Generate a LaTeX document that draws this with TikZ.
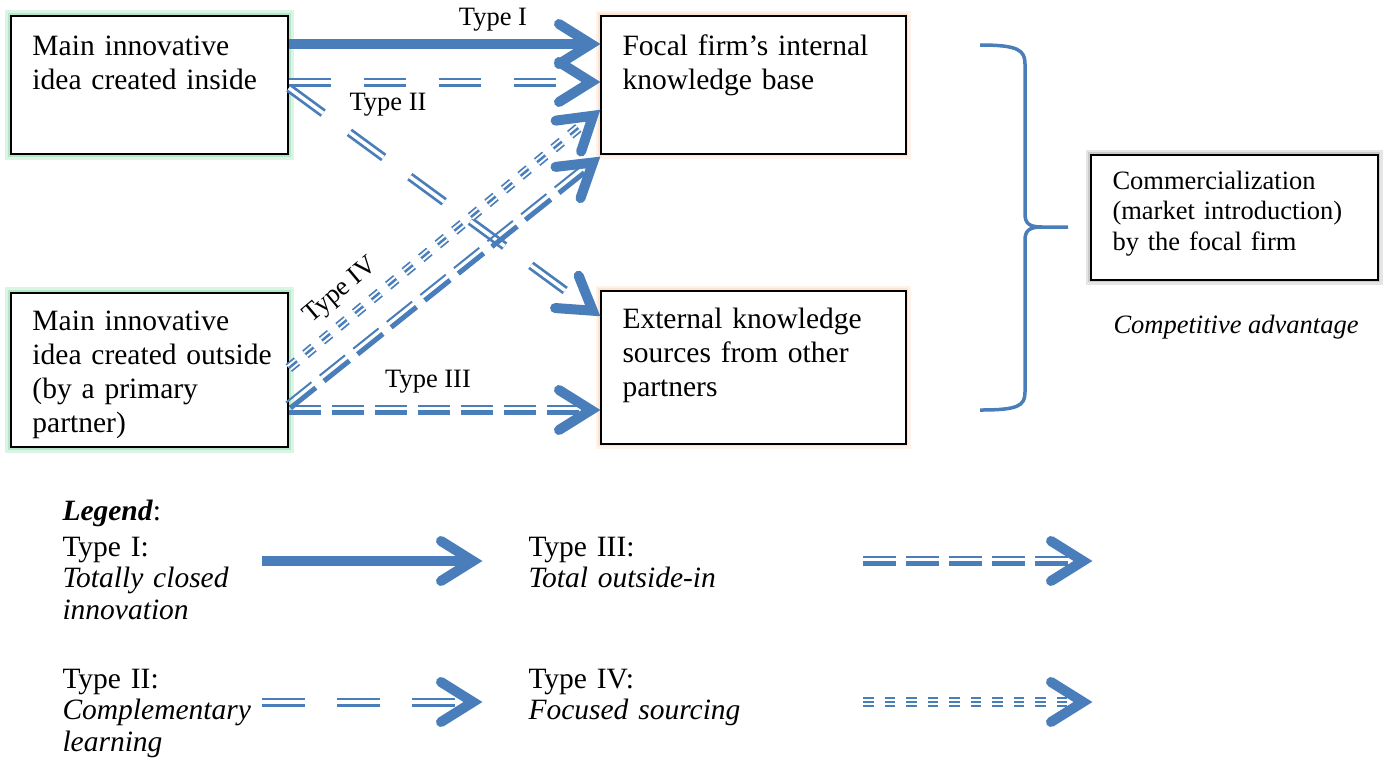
\documentclass[tikz,border=0pt]{standalone}
\usepackage{fontspec}
\setmainfont{Liberation Serif}
\usetikzlibrary{calc}
\definecolor{arr}{RGB}{74,126,187}
\definecolor{glowg}{RGB}{140,220,170}
\definecolor{glowo}{RGB}{250,205,175}
\newcommand{\tthree}[2]{%
  \draw[t3thick] ($(#1)!1pt!-90:(#2)$) -- ($(#2)!1pt!90:(#1)$);
  \draw[t3thin] ($(#1)!1.8pt!90:(#2)$) -- ($(#2)!1.8pt!-90:(#1)$);}
\newcommand{\tfour}[2]{%
  \draw[t4a] (#1) -- (#2);
  \draw[t4b] (#1) -- (#2);}
\begin{document}
\begin{tikzpicture}[x=0.4pt,y=-0.4pt,
  box/.style={draw=black, fill=white, line width=0.75pt, rectangle, inner sep=0pt, anchor=north west},
  gbox/.style={preaction={draw=glowg, line width=5pt, opacity=.3}, preaction={draw=glowg, line width=2.6pt, opacity=.5}},
  obox/.style={preaction={draw=glowo, line width=4pt, opacity=.25}, preaction={draw=glowo, line width=2pt, opacity=.4}},
  sbox/.style={preaction={draw=black!40, line width=4pt, opacity=.25}, preaction={draw=black!40, line width=2pt, opacity=.35}},
  btxt/.style={anchor=base west, inner sep=0pt, align=left, font=\fontsize{11.8}{13.6}\selectfont},
  stxt/.style={anchor=base west, inner sep=0pt, align=left, font=\fontsize{10.6}{12.2}\selectfont},
  ltxt/.style={anchor=base west, inner sep=0pt, align=left, font=\fontsize{11.8}{12.6}\selectfont},
  lbl/.style={inner sep=0pt, font=\fontsize{10.6}{12.2}\selectfont},
  t1/.style={draw=arr, line width=4pt},
  t2/.style={draw=arr, line width=1.1pt, double=white, double distance=1.4pt, dash pattern=on 17pt off 13pt},
  t3thick/.style={draw=arr, line width=2pt, dash pattern=on 13pt off 4.2pt},
  t3thin/.style={draw=arr, line width=0.8pt, dash pattern=on 13pt off 4.2pt},
  t4a/.style={draw=arr, line width=0.7pt, double=white, double distance=2.6pt, dash pattern=on 4.2pt off 4.4pt},
  t4b/.style={draw=arr, line width=1pt, dash pattern=on 4.2pt off 4.4pt},
  chev/.pic={\draw[draw=arr, line width=4pt, line cap=round, line join=miter] (-41,-20) -- (-9,0) -- (-41,20);}
]
\useasboundingbox (0,0) rectangle (1385,761);

% boxes
\node[box, gbox, minimum width=110.8pt, minimum height=55.2pt] (A) at (10,15) {};
\node[box, gbox, minimum width=110.8pt, minimum height=61.6pt] (B) at (10,292) {};
\node[box, obox, minimum width=122pt, minimum height=55.2pt] (C) at (600,15) {};
\node[box, obox, minimum width=122pt, minimum height=61.2pt] (D) at (600,290) {};
\node[box, sbox, minimum width=114.8pt, minimum height=50pt] (E) at (1090,154) {};

\node[btxt, text width=100pt] (At) at (32,55) {Main innovative\\idea created inside};
\node[btxt, text width=100pt] (Bt) at (32,330) {Main innovative\\idea created outside\\(by a primary\\partner)};
\node[btxt, text width=112pt] (Ct) at (622,55) {Focal firm’s internal\\knowledge base};
\node[btxt, text width=112pt] (Dt) at (622,328) {External knowledge\\sources from other\\partners};
\node[stxt, text width=108pt] (Et) at (1112,189) {Commercialization\\(market introduction)\\by the focal firm};
\node[stxt, font=\fontsize{10.6}{12.2}\selectfont\itshape, anchor=base west] (CA) at (1113,333) {Competitive advantage};

% connection points
\coordinate (a1) at ($(A.north east)+(0,29)$);
\coordinate (a2) at ($(A.north east)+(0,67)$);
\coordinate (a2d) at ($(A.north east)+(0,73)$);
\coordinate (b4) at ($(B.north east)+(0,76)$);
\coordinate (b3d) at ($(B.north east)+(0,114)$);
\coordinate (b3) at ($(B.north east)+(0,118)$);
\coordinate (c1) at ($(C.north west)+(0,29)$);
\coordinate (c2) at ($(C.north west)+(0,67)$);
\coordinate (c4) at ($(C.north west)+(0,95)$);
\coordinate (c3) at ($(C.south west)+(0,2)$);
\coordinate (d2) at ($(D.north west)+(0,26)$);
\coordinate (d3) at ($(D.north west)+(0,120)$);
\coordinate (c1v) at ($(c1)!3.6pt!(a1)$);
\coordinate (c2v) at ($(c2)!3.6pt!(a2)$);
\coordinate (c4v) at ($(c4)!3.6pt!(b4)$);
\coordinate (c3v) at ($(c3)!3.6pt!(b3d)$);
\coordinate (d2v) at ($(d2)!3.6pt!(a2d)$);
\coordinate (d3v) at ($(d3)!3.6pt!(b3)$);

% main connectors
\draw[t1] (a1) -- (c1v);
\draw[t2] (a2) -- (c2v);
\draw[t2] (a2d) -- (d2v);
\tfour{b4}{c4v}
\tthree{b3d}{c3v}
\tthree{b3}{d3v}
\pic at (c1) {chev};
\pic at (c2) {chev};
\pic[rotate=-36.07] at (d2) {chev};
\pic[rotate=39.5] at (c4) {chev};
\pic[rotate=38.7] at (c3) {chev};
\pic at (d3) {chev};

% labels
\node[lbl] (L1) at (493,20) {Type I};
\node[lbl] (L2) at (388,105) {Type II};
\node[lbl] (L3) at (428,382) {Type III};
\node[lbl, rotate=40] (L4) at (341,291) {Type IV};

% brace
\coordinate (brtop) at (980,45);
\coordinate (brtip) at (1068,227);
\coordinate (brbot) at (980,410);
\draw[draw=arr, line width=1.4pt] (brtop) .. controls (1018,45) and (1025,50) .. (1025,64) -- (1025,214)
  .. controls (1025,224) and (1030,227) .. (1042,227) -- (brtip);
\draw[draw=arr, line width=1.4pt] (1042,227) .. controls (1030,227) and (1025,230) .. (1025,240) -- (1025,392)
  .. controls (1025,406) and (1018,410) .. (brbot);

% legend
\node[ltxt] (LG) at (62,520) {\textbf{\textit{Legend}}:};
\node[ltxt, text width=90pt] (T1) at (62,556) {Type I:\\\textit{Totally closed}\\\textit{innovation}};
\node[ltxt, text width=90pt] (T2) at (62,688) {Type II:\\\textit{Complementary}\\\textit{learning}};
\node[ltxt, text width=90pt] (T3) at (528,556) {Type III:\\\textit{Total outside-in}};
\node[ltxt, text width=90pt] (T4) at (528,688) {Type IV:\\\textit{Focused sourcing}};

\coordinate (l1s) at (262,561);
\coordinate (l1e) at (482,561);
\coordinate (l2s) at (262,702);
\coordinate (l2e) at (482,702);
\coordinate (l3s) at (863,561);
\coordinate (l3e) at (1092,561);
\coordinate (l4s) at (863,702);
\coordinate (l4e) at (1092,702);
\coordinate (l1v) at ($(l1e)!3.6pt!(l1s)$);
\coordinate (l2v) at ($(l2e)!3.6pt!(l2s)$);
\coordinate (l3v) at ($(l3e)!3.6pt!(l3s)$);
\coordinate (l4v) at ($(l4e)!3.6pt!(l4s)$);
\draw[t1] (l1s) -- (l1v);
\draw[t2] (l2s) -- (l2v);
\tthree{l3s}{l3v}
\tfour{l4s}{l4v}
\pic at (l1e) {chev};
\pic at (l2e) {chev};
\pic at (l3e) {chev};
\pic at (l4e) {chev};
\end{tikzpicture}
\end{document}
